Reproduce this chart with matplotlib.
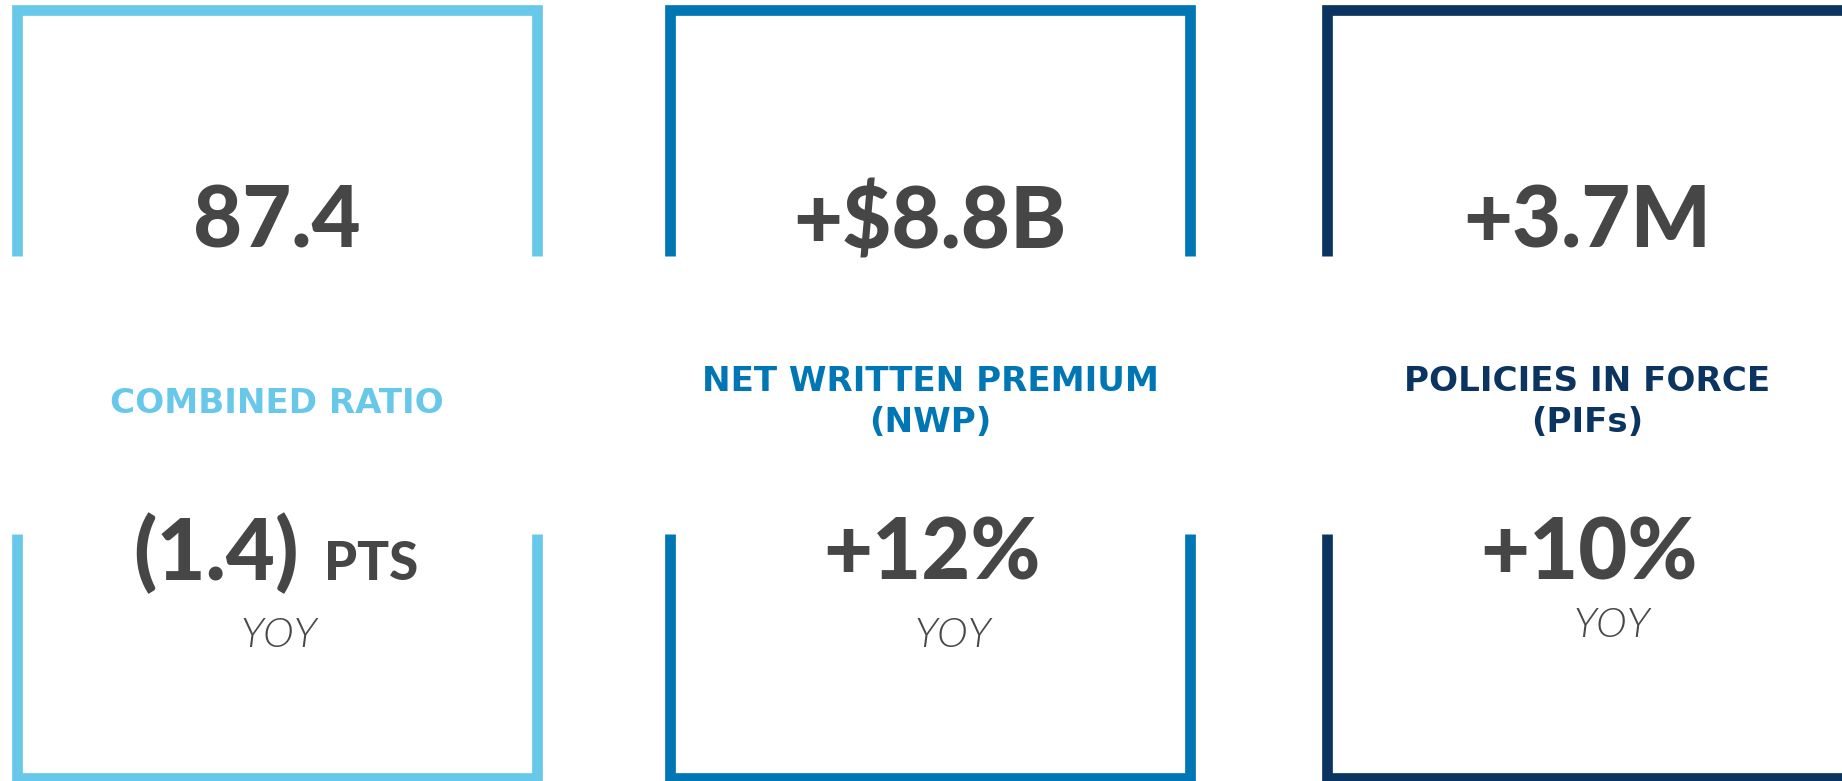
import matplotlib
matplotlib.use("Agg")
import matplotlib.pyplot as plt

# ---- data ----
top_values = ["87.4", "+$8.8B", "+3.7M"]
labels = ["COMBINED RATIO", "NET WRITTEN PREMIUM\n(NWP)", "POLICIES IN FORCE\n(PIFs)"]
change_values = ["(1.4)", "+12%", "+10%"]
change_units = ["PTS", "", ""]
yoy_labels = ["YOY", "YOY", "YOY"]
colors = ["#68C8EA", "#0077B4", "#0C3460"]

# ---- layout (pixels) ----
W, H = 1842, 781
box_lefts = [12, 665, 1322]
box_w = 530
lw_px = 10.7
top_outer = 5
upper_end = 256
lower_start = 534
bottom_outer = 783
yoy_dx = [2, 23, 25]
yoy_base = [647, 647, 637]
text_gray = "#464646"

px2pt = 72 / 100.0

fig = plt.figure(figsize=(W / 100, H / 100), dpi=100)
ax = fig.add_axes([0, 0, 1, 1])
ax.set_xlim(0, W)
ax.set_ylim(H, 0)
ax.axis("off")

val_font = dict(family=["Lato", "DejaVu Sans"], weight="black")
lab_font = dict(family=["DejaVu Sans"], weight="bold")

for i in range(3):
    L = box_lefts[i]
    R = L + box_w
    c = colors[i]
    h = lw_px / 2
    cx = (L + R) / 2
    # upper bracket
    ax.plot([L + h, L + h, R - h, R - h],
            [upper_end, top_outer + h, top_outer + h, upper_end],
            color=c, lw=lw_px * px2pt, solid_capstyle="butt",
            solid_joinstyle="miter")
    # lower bracket
    ax.plot([L + h, L + h, R - h, R - h],
            [lower_start, bottom_outer - h, bottom_outer - h, lower_start],
            color=c, lw=lw_px * px2pt, solid_capstyle="butt",
            solid_joinstyle="miter")

    # headline value
    ax.text(cx, 248, top_values[i], ha="center", va="baseline",
            fontsize=61, color=text_gray, **val_font)

    # label (baseline of last line)
    lab = labels[i]
    ly = 432 if "\n" in lab else 413
    ax.text(cx, ly, lab, ha="center", va="baseline", ma="center",
            fontsize=24.6, color=c, linespacing=1.29, **lab_font)

    # change value
    if change_units[i]:
        ax.text(cx + 22, 580, change_values[i], ha="right", va="baseline",
                fontsize=61, color=text_gray, **val_font)
        ax.text(cx + 47, 580, change_units[i], ha="left", va="baseline",
                fontsize=38.2, color=text_gray, **val_font)
    else:
        ax.text(cx + 2, 580, change_values[i], ha="center", va="baseline",
                fontsize=61, color=text_gray, **val_font)

    # YOY
    ax.text(cx + yoy_dx[i], yoy_base[i], yoy_labels[i], ha="center",
            va="baseline", fontsize=30.1, color="#484848",
            family=["Lato", "DejaVu Sans"], weight=300, style="italic")

fig.savefig("out.png", dpi=100, facecolor="white")
